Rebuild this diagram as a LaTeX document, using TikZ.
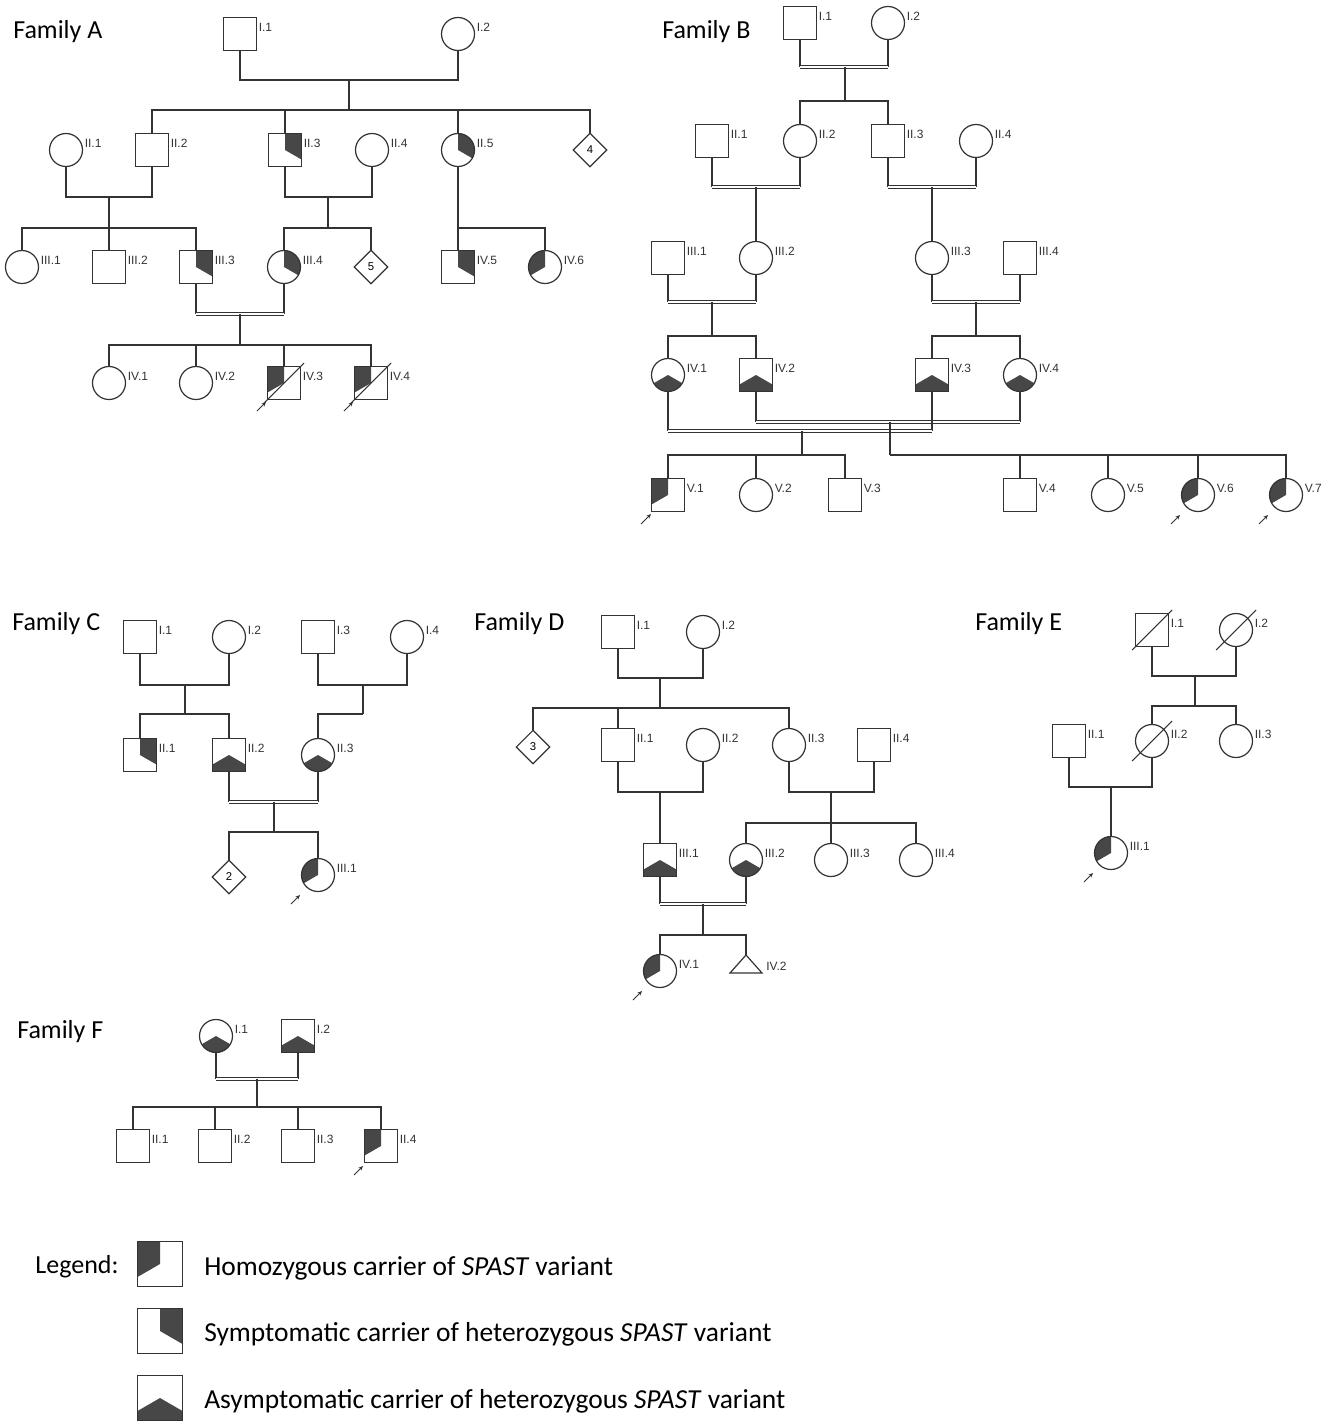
\documentclass[tikz,border=0pt]{standalone}
\usepackage{fontspec}
\setmainfont{Carlito}
\newfontfamily\idfont{Liberation Sans}
\usetikzlibrary{shapes.geometric,arrows.meta}
\definecolor{ink}{HTML}{333333}
\definecolor{carrierfill}{HTML}{474747}
\tikzset{
  person/.style={draw=ink, line width=0.9pt, inner sep=0pt, outer sep=0pt, minimum size=24.75pt},
  male/.style={person, rectangle},
  female/.style={person, circle},
  unknown/.style={person, diamond, aspect=1, minimum size=25pt, font=\idfont\fontsize{8.5}{9}\selectfont},
  idtext/.style={font=\idfont\fontsize{9}{10}\selectfont, text=ink, inner sep=1.5pt},
  pid/.style={label={[idtext,yshift=5pt]right:#1}},
  homo/.style={path picture={\fill[carrierfill] (path picture bounding box.center) -- +(90:1cm) -- +(150:2cm) -- +(210:1cm) -- cycle;}},
  symp/.style={path picture={\fill[carrierfill] (path picture bounding box.center) -- +(-30:1cm) -- +(30:2cm) -- +(90:1cm) -- cycle;}},
  asym/.style={path picture={\fill[carrierfill] (path picture bounding box.center) -- +(210:1cm) -- +(270:2cm) -- +(330:1cm) -- cycle;}},
  pedline/.style={draw=ink, line width=0.9pt},
  consang/.style={draw=ink, line width=0.6pt, double, double distance=1.8pt},
  dead/.style={draw=ink, line width=0.8pt},
  proband/.style={draw=ink, line width=0.7pt, -{Stealth[length=3.5pt,width=3pt]}},
  famlabel/.style={anchor=west, inner sep=0pt, font=\fontsize{19.5}{23}\selectfont},
  legtext/.style={anchor=west, inner sep=0pt, font=\fontsize{20.6}{24}\selectfont},
  legbox/.style={male, minimum size=33.75pt},
}
\begin{document}
\begin{tikzpicture}[x=0.75pt, y=-0.75pt]
  \useasboundingbox (0,0) rectangle (1333,1424);

  % Family A
  \node[famlabel] (A-title) at (13,32) {Family A};
  \node[male, pid=I.1] (A-I1) at (240,34) {};
  \node[female, pid=I.2] (A-I2) at (458,34) {};
  \coordinate (A-m1) at (349,80);
  \coordinate (A-s1) at (349,110);
  \draw[pedline] (A-I1) |- (A-m1) -| (A-I2);
  \draw[pedline] (A-m1) -- (A-s1);

  \node[female, pid=II.1] (A-II1) at (66,150) {};
  \node[male, pid=II.2] (A-II2) at (152,150) {};
  \node[male, symp, pid=II.3] (A-II3) at (285,150) {};
  \node[female, pid=II.4] (A-II4) at (372,150) {};
  \node[female, symp, pid=II.5] (A-II5) at (458,150) {};
  \node[unknown] (A-n4) at (590,150) {4};
  \draw[pedline] (A-II2) |- (A-s1) -| (A-n4);
  \draw[pedline] (A-II3) -- (A-II3 |- A-s1);
  \draw[pedline] (A-II5) -- (A-II5 |- A-s1);

  \coordinate (A-m2) at (109,197);
  \coordinate (A-s2) at (109,228);
  \coordinate (A-m3) at (328,197);
  \coordinate (A-s3) at (328,228);
  \coordinate (A-s4) at (458,228);
  \draw[pedline] (A-II1) |- (A-m2) -| (A-II2);
  \draw[pedline] (A-m2) -- (A-s2);
  \draw[pedline] (A-II3) |- (A-m3) -| (A-II4);
  \draw[pedline] (A-m3) -- (A-s3);
  \draw[pedline] (A-II5) -- (A-s4);

  \node[female, pid=III.1] (A-III1) at (22,267) {};
  \node[male, pid=III.2] (A-III2) at (109,267) {};
  \node[male, symp, pid=III.3] (A-III3) at (196,267) {};
  \node[female, symp, pid=III.4] (A-III4) at (284,267) {};
  \node[unknown] (A-n5) at (371,267) {5};
  \node[male, symp, pid=IV.5] (A-IV5) at (458,267) {};
  \node[female, homo, pid=IV.6] (A-IV6) at (545,267) {};
  \draw[pedline] (A-III1) |- (A-s2) -| (A-III3);
  \draw[pedline] (A-s2) -- (A-III2);
  \draw[pedline] (A-III4) |- (A-s3) -| (A-n5);
  \draw[pedline] (A-IV5) |- (A-s4) -| (A-IV6);

  \coordinate (A-m5) at (240,314);
  \coordinate (A-s5) at (240,345);
  \draw[pedline] (A-III3) -- (A-III3 |- A-m5) (A-III4) -- (A-III4 |- A-m5);
  \draw[consang] (A-III3 |- A-m5) -- (A-III4 |- A-m5);
  \draw[pedline] (A-m5) -- (A-s5);

  \node[female, pid=IV.1] (A-IV1) at (109,383) {};
  \node[female, pid=IV.2] (A-IV2) at (196,383) {};
  \node[male, homo, pid=IV.3] (A-IV3) at (284,383) {};
  \node[male, homo, pid=IV.4] (A-IV4) at (371,383) {};
  \draw[pedline] (A-IV1) |- (A-s5) -| (A-IV4);
  \draw[pedline] (A-IV2) -- (A-IV2 |- A-s5);
  \draw[pedline] (A-IV3) -- (A-IV3 |- A-s5);
  \draw[dead] (A-IV3) +(-20,20) -- +(20,-20);
  \draw[dead] (A-IV4) +(-20,20) -- +(20,-20);
  \draw[proband] (A-IV3) ++(-27,28) -- +(9,-9);
  \draw[proband] (A-IV4) ++(-27,28) -- +(9,-9);

  % Family B
  \node[famlabel] (B-title) at (662,32) {Family B};
  \node[male, pid=I.1] (B-I1) at (800,23) {};
  \node[female, pid=I.2] (B-I2) at (888,23) {};
  \coordinate (B-m1) at (845,67);
  \coordinate (B-s1) at (845,101);
  \draw[pedline] (B-I1) -- (B-I1 |- B-m1) (B-I2) -- (B-I2 |- B-m1);
  \draw[consang] (B-I1 |- B-m1) -- (B-I2 |- B-m1);
  \draw[pedline] (B-m1) -- (B-s1);

  \node[male, pid=II.1] (B-II1) at (712,141) {};
  \node[female, pid=II.2] (B-II2) at (800,141) {};
  \node[male, pid=II.3] (B-II3) at (888,141) {};
  \node[female, pid=II.4] (B-II4) at (976,141) {};
  \draw[pedline] (B-II2) |- (B-s1) -| (B-II3);

  \coordinate (B-m2) at (756,187);
  \coordinate (B-m3) at (932,187);
  \draw[pedline] (B-II1) -- (B-II1 |- B-m2) (B-II2) -- (B-II2 |- B-m2);
  \draw[consang] (B-II1 |- B-m2) -- (B-II2 |- B-m2);
  \draw[pedline] (B-II3) -- (B-II3 |- B-m3) (B-II4) -- (B-II4 |- B-m3);
  \draw[consang] (B-II3 |- B-m3) -- (B-II4 |- B-m3);

  \node[male, pid=III.1] (B-III1) at (668,258) {};
  \node[female, pid=III.2] (B-III2) at (756,258) {};
  \node[female, pid=III.3] (B-III3) at (932,258) {};
  \node[male, pid=III.4] (B-III4) at (1020,258) {};
  \draw[pedline] (B-m2) -- (B-III2);
  \draw[pedline] (B-m3) -- (B-III3);

  \coordinate (B-m4) at (712,302);
  \coordinate (B-s4) at (712,336);
  \coordinate (B-m5) at (976,302);
  \coordinate (B-s5) at (976,336);
  \draw[pedline] (B-III1) -- (B-III1 |- B-m4) (B-III2) -- (B-III2 |- B-m4);
  \draw[consang] (B-III1 |- B-m4) -- (B-III2 |- B-m4);
  \draw[pedline] (B-m4) -- (B-s4);
  \draw[pedline] (B-III3) -- (B-III3 |- B-m5) (B-III4) -- (B-III4 |- B-m5);
  \draw[consang] (B-III3 |- B-m5) -- (B-III4 |- B-m5);
  \draw[pedline] (B-m5) -- (B-s5);

  \node[female, asym, pid=IV.1] (B-IV1) at (668,375) {};
  \node[male, asym, pid=IV.2] (B-IV2) at (756,375) {};
  \node[male, asym, pid=IV.3] (B-IV3) at (932,375) {};
  \node[female, asym, pid=IV.4] (B-IV4) at (1020,375) {};
  \draw[pedline] (B-IV1) |- (B-s4) -| (B-IV2);
  \draw[pedline] (B-IV3) |- (B-s5) -| (B-IV4);

  \coordinate (B-m6) at (890,422);
  \coordinate (B-m7) at (802,431);
  \coordinate (B-s6) at (890,455);
  \coordinate (B-s7) at (802,455);
  \draw[pedline] (B-IV2) -- (B-IV2 |- B-m6) (B-IV4) -- (B-IV4 |- B-m6);
  \draw[consang] (B-IV2 |- B-m6) -- (B-IV4 |- B-m6);
  \draw[pedline] (B-IV1) -- (B-IV1 |- B-m7) (B-IV3) -- (B-IV3 |- B-m7);
  \draw[consang] (B-IV1 |- B-m7) -- (B-IV3 |- B-m7);
  \draw[pedline] (B-m6) -- (B-s6);
  \draw[pedline] (B-m7) -- (B-s7);

  \node[male, homo, pid=V.1] (B-V1) at (668,495) {};
  \node[female, pid=V.2] (B-V2) at (756,495) {};
  \node[male, pid=V.3] (B-V3) at (845,495) {};
  \node[male, pid=V.4] (B-V4) at (1020,495) {};
  \node[female, pid=V.5] (B-V5) at (1108,495) {};
  \node[female, homo, pid=V.6] (B-V6) at (1198,495) {};
  \node[female, homo, pid=V.7] (B-V7) at (1286,495) {};
  \draw[pedline] (B-V1) |- (B-s7) -| (B-V3);
  \draw[pedline] (B-V2) -- (B-V2 |- B-s7);
  \draw[pedline] (B-s6) -| (B-V7);
  \draw[pedline] (B-V4) -- (B-V4 |- B-s6);
  \draw[pedline] (B-V5) -- (B-V5 |- B-s6);
  \draw[pedline] (B-V6) -- (B-V6 |- B-s6);
  \draw[proband] (B-V1) ++(-27,29) -- +(10,-10);
  \draw[proband] (B-V6) ++(-27,29) -- +(9,-9);
  \draw[proband] (B-V7) ++(-27,29) -- +(9,-9);

  % Family C
  \node[famlabel] (C-title) at (12,624) {Family C};
  \node[male, pid=I.1] (C-I1) at (140,637) {};
  \node[female, pid=I.2] (C-I2) at (229,637) {};
  \node[male, pid=I.3] (C-I3) at (318,637) {};
  \node[female, pid=I.4] (C-I4) at (407,637) {};
  \coordinate (C-m1) at (185,685);
  \coordinate (C-s1) at (185,714);
  \coordinate (C-m2) at (363,685);
  \coordinate (C-s2) at (363,714);
  \draw[pedline] (C-I1) |- (C-m1) -| (C-I2);
  \draw[pedline] (C-m1) -- (C-s1);
  \draw[pedline] (C-I3) |- (C-m2) -| (C-I4);
  \draw[pedline] (C-m2) -- (C-s2);

  \node[male, symp, pid=II.1] (C-II1) at (140,755) {};
  \node[male, asym, pid=II.2] (C-II2) at (229,755) {};
  \node[female, asym, pid=II.3] (C-II3) at (318,755) {};
  \draw[pedline] (C-II1) |- (C-s1) -| (C-II2);
  \draw[pedline] (C-II3) |- (C-s2);

  \coordinate (C-m3) at (274,802);
  \coordinate (C-s3) at (274,832);
  \draw[pedline] (C-II2) -- (C-II2 |- C-m3) (C-II3) -- (C-II3 |- C-m3);
  \draw[consang] (C-II2 |- C-m3) -- (C-II3 |- C-m3);
  \draw[pedline] (C-m3) -- (C-s3);

  \node[unknown] (C-n2) at (229,877) {2};
  \node[female, homo, pid=III.1] (C-III1) at (318,875) {};
  \draw[pedline] (C-n2) |- (C-s3) -| (C-III1);
  \draw[proband] (C-III1) ++(-27,29) -- +(9,-9);

  % Family D
  \node[famlabel] (D-title) at (474,624) {Family D};
  \node[male, pid=I.1] (D-I1) at (618,632) {};
  \node[female, pid=I.2] (D-I2) at (703,632) {};
  \coordinate (D-m1) at (660,678);
  \coordinate (D-s1) at (660,708);
  \draw[pedline] (D-I1) |- (D-m1) -| (D-I2);
  \draw[pedline] (D-m1) -- (D-s1);

  \node[unknown] (D-n3) at (533,747) {3};
  \node[male, pid=II.1] (D-II1) at (618,745) {};
  \node[female, pid=II.2] (D-II2) at (703,745) {};
  \node[female, pid=II.3] (D-II3) at (789,745) {};
  \node[male, pid=II.4] (D-II4) at (874,745) {};
  \draw[pedline] (D-n3) |- (D-s1) -| (D-II3);
  \draw[pedline] (D-II1) -- (D-II1 |- D-s1);

  \coordinate (D-m2) at (660,792);
  \coordinate (D-m3) at (831,792);
  \coordinate (D-s3) at (831,823);
  \draw[pedline] (D-II1) |- (D-m2) -| (D-II2);
  \draw[pedline] (D-II3) |- (D-m3) -| (D-II4);
  \draw[pedline] (D-m3) -- (D-s3);

  \node[male, asym, pid=III.1] (D-III1) at (660,860) {};
  \node[female, asym, pid=III.2] (D-III2) at (746,860) {};
  \node[female, pid=III.3] (D-III3) at (831,860) {};
  \node[female, pid=III.4] (D-III4) at (916,860) {};
  \draw[pedline] (D-m2) -- (D-III1);
  \draw[pedline] (D-III2) |- (D-s3) -| (D-III4);
  \draw[pedline] (D-s3) -- (D-III3);

  \coordinate (D-m4) at (703,904);
  \coordinate (D-s4) at (703,935);
  \draw[pedline] (D-III1) -- (D-III1 |- D-m4) (D-III2) -- (D-III2 |- D-m4);
  \draw[consang] (D-III1 |- D-m4) -- (D-III2 |- D-m4);
  \draw[pedline] (D-m4) -- (D-s4);

  \node[female, homo, pid=IV.1] (D-IV1) at (660,971) {};
  \coordinate (D-IV2) at (746,955);
  \draw[pedline] (D-IV2) -- ++(16,18) -- ++(-32,0) -- cycle;
  \node[idtext, anchor=west] (D-IV2-id) at (764,966) {IV.2};
  \draw[pedline] (D-IV1) |- (D-s4) -| (D-IV2);
  \draw[proband] (D-IV1) ++(-27,29) -- +(9,-9);

  % Family E
  \node[famlabel] (E-title) at (975,624) {Family E};
  \node[male, pid=I.1] (E-I1) at (1152,630) {};
  \node[female, pid=I.2] (E-I2) at (1236,630) {};
  \draw[dead] (E-I1) +(-20,20) -- +(20,-20);
  \draw[dead] (E-I2) +(-20,20) -- +(20,-20);
  \coordinate (E-m1) at (1195,676);
  \coordinate (E-s1) at (1195,706);
  \draw[pedline] (E-I1) |- (E-m1) -| (E-I2);
  \draw[pedline] (E-m1) -- (E-s1);

  \node[male, pid=II.1] (E-II1) at (1069,741) {};
  \node[female, pid=II.2] (E-II2) at (1152,741) {};
  \node[female, pid=II.3] (E-II3) at (1236,741) {};
  \draw[dead] (E-II2) +(-20,20) -- +(20,-20);
  \draw[pedline] (E-II2) |- (E-s1) -| (E-II3);

  \coordinate (E-m2) at (1111,787);
  \draw[pedline] (E-II1) |- (E-m2) -| (E-II2);
  \node[female, homo, pid=III.1] (E-III1) at (1111,853) {};
  \draw[pedline] (E-m2) -- (E-III1);
  \draw[proband] (E-III1) ++(-27,29) -- +(9,-9);

  % Family F
  \node[famlabel] (F-title) at (17,1032) {Family F};
  \node[female, asym, pid=I.1] (F-I1) at (216,1036) {};
  \node[male, asym, pid=I.2] (F-I2) at (298,1036) {};
  \coordinate (F-m1) at (257,1079);
  \coordinate (F-s1) at (257,1107);
  \draw[pedline] (F-I1) -- (F-I1 |- F-m1) (F-I2) -- (F-I2 |- F-m1);
  \draw[consang] (F-I1 |- F-m1) -- (F-I2 |- F-m1);
  \draw[pedline] (F-m1) -- (F-s1);

  \node[male, pid=II.1] (F-II1) at (133,1146) {};
  \node[male, pid=II.2] (F-II2) at (215,1146) {};
  \node[male, pid=II.3] (F-II3) at (298,1146) {};
  \node[male, homo, pid=II.4] (F-II4) at (381,1146) {};
  \draw[pedline] (F-II1) |- (F-s1) -| (F-II4);
  \draw[pedline] (F-II2) -- (F-II2 |- F-s1);
  \draw[pedline] (F-II3) -- (F-II3 |- F-s1);
  \draw[proband] (F-II4) ++(-27,29) -- +(9,-9);

  % Legend
  \node[famlabel, anchor=center] (L-title) at (77,1267) {Legend:};
  \node[legbox, homo] (L-hom) at (160,1264) {};
  \node[legbox, symp] (L-sym) at (160,1331) {};
  \node[legbox, asym] (L-asy) at (160,1398) {};
  \node[legtext] (L-homtext) at (204,1268) {Homozygous carrier of \textit{SPAST} variant};
  \node[legtext] (L-symtext) at (204,1334) {Symptomatic carrier of heterozygous \textit{SPAST} variant};
  \node[legtext] (L-asytext) at (204,1401) {Asymptomatic carrier of heterozygous \textit{SPAST} variant};
\end{tikzpicture}
\end{document}
